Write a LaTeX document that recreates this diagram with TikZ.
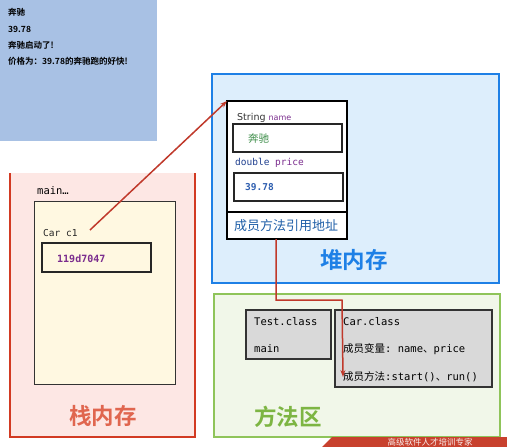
\documentclass[tikz,border=0pt]{standalone}
\usepackage{fontspec}
\setmainfont{DejaVu Sans}
\setmonofont{DejaVu Sans Mono}
\newfontfamily\cjk{Noto Sans CJK SC}
\newfontfamily\cjkb{Noto Sans CJK SC Bold}
\usetikzlibrary{arrows.meta}
\definecolor{console}{HTML}{A8C1E4}
\definecolor{heapfill}{HTML}{DDEEFC}
\definecolor{heapline}{HTML}{1E80E6}
\definecolor{stackfill}{HTML}{FDE7E4}
\definecolor{stackline}{HTML}{D23A22}
\definecolor{stacklabel}{HTML}{E0664F}
\definecolor{cream}{HTML}{FFF8E1}
\definecolor{methfill}{HTML}{F1F7E9}
\definecolor{methline}{HTML}{8FC45A}
\definecolor{methlabel}{HTML}{7DB543}
\definecolor{graybox}{HTML}{D9D9D9}
\definecolor{arrowred}{HTML}{C0392B}
\definecolor{purp}{HTML}{7B2D8E}
\definecolor{dblue}{HTML}{1F3F8F}
\definecolor{vblue}{HTML}{2F5FB0}
\definecolor{vgreen}{HTML}{3E8E4A}
\definecolor{methblue}{HTML}{1F5FA8}
\definecolor{banner}{HTML}{C8412E}
\tikzset{
  txt/.style={anchor=west, inner sep=0pt},
  contxt/.style={txt, font=\cjkb\fontsize{8.5}{10}\selectfont},
  monotxt/.style={txt, font=\ttfamily\fontsize{10.5}{12}\selectfont},
  valbox/.style={draw=black!85, line width=1.6pt, fill=white},
  area/.style={line width=2.6pt},
  ref/.style={draw=arrowred, line width=1.5pt, -{Stealth[length=7pt,width=5pt]}},
  biglabel/.style={inner sep=0pt, font=\cjkb\fontsize{22.5}{24}\selectfont}
}
\begin{document}
\begin{tikzpicture}[x=1pt,y=-1pt]
\useasboundingbox (0,0) rectangle (507,447);
\fill[white] (0,0) rectangle (507,447);
% console
\fill[console] (0,0) rectangle (157,141);
\node[contxt] (o1) at (8,12) {奔驰};
\node[contxt] (o2) at (8,29) {39.78};
\node[contxt] (o3) at (8,45) {奔驰启动了!};
\node[contxt] (o4) at (8,61) {价格为：39.78的奔驰跑的好快!};
% heap
\draw[area, draw=heapline, fill=heapfill] (212,74) rectangle (499,283);
\node[biglabel, text=heapline] (heaplbl) at (354,260) {堆内存};
\draw[line width=1.8pt, draw=black, fill=white] (227,101) rectangle (347,239);
\coordinate (obj) at (227,101);
\draw[line width=1.8pt] (227,212) -- (347,212);
\node[txt, font=\fontsize{9.5}{11}\selectfont, text=black!80] (sname) at (237,118) {String \textcolor{purp}{\fontsize{8}{10}\selectfont name}};
\draw[valbox] (233,124) rectangle (342,152);
\node[txt, font=\cjk\fontsize{10.5}{12}\selectfont, text=vgreen] (vname) at (248,139) {奔驰};
\node[txt, font=\ttfamily\fontsize{9.5}{11}\selectfont, text=dblue] (sprice) at (235,163) {double \textcolor{purp}{price}};
\draw[valbox] (234,173) rectangle (343,201);
\node[txt, font=\ttfamily\bfseries\fontsize{9.5}{11}\selectfont, text=vblue] (vprice) at (245,187) {39.78};
\node[txt, font=\cjk\fontsize{13}{15}\selectfont, text=methblue] (mref) at (234,226) {成员方法引用地址};
\coordinate (mrefb) at (276,239);
% stack
\fill[stackfill] (10,173) rectangle (195,437);
\draw[area, draw=stackline] (10,173) -- (10,437) -- (195,437) -- (195,173);
\node[monotxt] (mainlbl) at (37,191) {main…};
\draw[line width=1pt, draw=black!80, fill=cream] (34,201) rectangle (175,384);
\node[monotxt, font=\ttfamily\fontsize{9.5}{11}\selectfont, text=black!85] (carc1) at (43,233) {Car c1};
\coordinate (c1) at (90,230);
\draw[valbox, line width=1.4pt, fill=cream] (42,243) rectangle (151,272);
\node[txt, font=\ttfamily\bfseries\fontsize{10}{12}\selectfont, text=purp] (addr) at (57,259) {119d7047};
\node[biglabel, text=stacklabel] (stacklbl) at (103,416) {栈内存};
% method area
\draw[area, draw=methline, fill=methfill] (214,294) rectangle (500,437);
\node[biglabel, text=methlabel] (methlbl) at (288,417) {方法区};
\draw[line width=1.2pt, draw=black!80, fill=graybox] (246,310) rectangle (331,359);
\node[monotxt] (tcls) at (254,322) {Test.class};
\node[monotxt] (tmain) at (254,349) {main};
\draw[line width=1.2pt, draw=black!80, fill=graybox] (335,310) rectangle (492,387);
\node[monotxt] (ccls) at (343,322) {Car.class};
\node[monotxt] (cvar) at (343,349) {{\cjk 成员变量}: name{\cjk 、}price};
\node[monotxt] (cmeth) at (343,377) {{\cjk 成员方法}:start(){\cjk 、}run()};
% references
\draw[ref] (c1) -- (obj);
\draw[ref] (mrefb) -- (276,300) -- (342,300) -- (cmeth.west);
% watermark banner
\fill[banner] (332,437) -- (507,437) -- (507,447) -- (322,447) -- cycle;
\node[inner sep=0pt, font=\cjk\fontsize{8.5}{9}\selectfont, text=white!90!banner] (wm) at (430,442) {高级软件人才培训专家};
\end{tikzpicture}
\end{document}
